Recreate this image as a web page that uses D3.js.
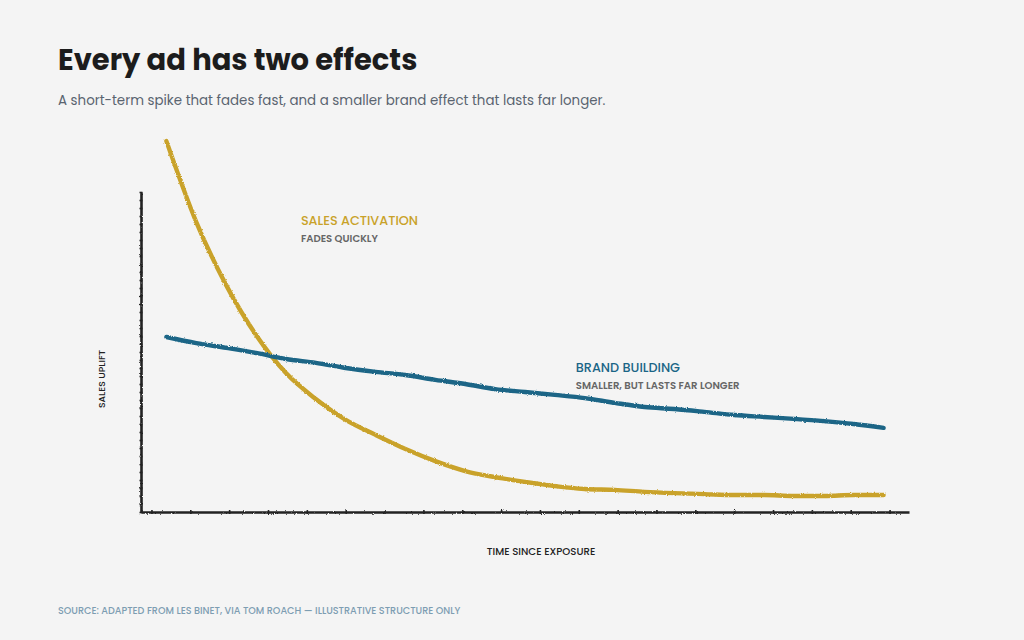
<!DOCTYPE html>
<html>
<head>
<meta charset="utf-8">
<script src="https://cdn.jsdelivr.net/npm/d3@7"></script>
<style>
  html, body { margin: 0; padding: 0; background: #f4f4f4; }
  svg { display: block; font-family: Poppins, Inter, "Open Sans", sans-serif; }
</style>
</head>
<body>
<div id="chart"></div>
<script>
// Weeks since exposure.
const weeks = d3.range(0, 25);

// Sales uplift per week.
const salesActivation = [
  115.9, 90.6, 70.9, 55.3, 43.4, 35.3, 28.8, 24.1, 19.7, 15.9, 12.8, 10.9,
  9.4, 8.1, 7.2, 6.9, 6.3, 5.9, 5.6, 5.3, 5.3, 5.0, 5.0, 5.3, 5.3
];
const brandBuilding = [
  54.7, 52.8, 51.3, 49.7, 47.8, 46.6, 45.0, 43.8, 42.8, 41.3, 40.0, 38.4,
  37.5, 36.6, 35.6, 34.1, 32.8, 32.2, 31.3, 30.3, 29.7, 29.1, 28.4, 27.5, 26.3
];

// Series labels and where they sit (week, uplift).
const seriesNames = ["SALES ACTIVATION", "BRAND BUILDING"];
const seriesNotes = ["FADES QUICKLY", "SMALLER, BUT LASTS FAR LONGER"];
const labelWeeks = [4.5, 13.7];
const labelValues = [89.7, 43.8];

const width = 1024;
const height = 640;
const colors = ["#c9a229", "#1a6586"];

/**
 * SVG container.
 */
const svg = d3.select("#chart")
  .append("svg")
  .attr("width", width)
  .attr("height", height);

svg.append("rect")
  .attr("width", width)
  .attr("height", height)
  .attr("fill", "#f4f4f4");

// A wobble filter for the hand-drawn look.
const defs = svg.append("defs");
const rough = defs.append("filter")
  .attr("id", "rough")
  .attr("x", "-5%").attr("y", "-5%")
  .attr("width", "110%").attr("height", "110%");
rough.append("feTurbulence")
  .attr("type", "fractalNoise")
  .attr("baseFrequency", 1.1)
  .attr("numOctaves", 2)
  .attr("seed", 3)
  .attr("result", "noise");
rough.append("feDisplacementMap")
  .attr("in", "SourceGraphic")
  .attr("in2", "noise")
  .attr("scale", 2.4)
  .attr("xChannelSelector", "R")
  .attr("yChannelSelector", "G");

/**
 * Scales.
 */
const x = d3.scaleLinear().domain([-0.85, 24.85]).range([141, 909]);
const y = d3.scaleLinear().domain([0, 100]).range([512, 192]);

/**
 * Axes.
 */
const xAxis = d3.axisBottom(x)
  .tickValues(d3.range(-0.5, 25, 1.3))
  .tickSize(2)
  .tickSizeOuter(0)
  .tickFormat("");
const yAxis = d3.axisLeft(y)
  .tickValues(d3.range(0, 101, 2.5))
  .tickSize(1.5)
  .tickSizeOuter(0)
  .tickFormat("");

const gx = svg.append("g")
  .attr("transform", `translate(0,${y(0)})`)
  .attr("filter", "url(#rough)")
  .call(xAxis);
const gy = svg.append("g")
  .attr("transform", `translate(${x(-0.85)},0)`)
  .attr("filter", "url(#rough)")
  .call(yAxis);

[gx, gy].forEach((g) => {
  g.select(".domain").attr("stroke", "#222").attr("stroke-width", 2.6);
  g.selectAll(".tick line").attr("stroke", "#222").attr("stroke-width", 1.6);
});
gx.selectAll(".tick line").attr("y1", -2);
gy.selectAll(".tick line").attr("x1", 1.5);

/**
 * Lines.
 */
const line = d3.line()
  .x((d, i) => x(weeks[i]))
  .y((d) => y(d))
  .curve(d3.curveMonotoneX);

[salesActivation, brandBuilding].forEach((series, i) => {
  svg.append("path")
    .datum(series)
    .attr("fill", "none")
    .attr("stroke", colors[i])
    .attr("stroke-width", 4.4)
    .attr("stroke-linecap", "round")
    .attr("stroke-linejoin", "round")
    .attr("filter", "url(#rough)")
    .attr("d", line);
});

/**
 * Series labels.
 */
seriesNames.forEach((name, i) => {
  svg.append("text")
    .attr("x", x(labelWeeks[i]))
    .attr("y", y(labelValues[i]))
    .attr("fill", colors[i])
    .attr("font-size", 12.8)
    .attr("font-weight", 500)
    .text(name);
  svg.append("text")
    .attr("x", x(labelWeeks[i]))
    .attr("y", y(labelValues[i]) + 17)
    .attr("fill", "#666")
    .attr("font-size", 10.1)
    .attr("font-weight", 600)
    .text(seriesNotes[i]);
});

/**
 * Axis titles.
 */
svg.append("text")
  .attr("x", 541)
  .attr("y", 555)
  .attr("text-anchor", "middle")
  .attr("fill", "#222")
  .attr("font-size", 10.2)
  .attr("font-weight", 500)
  .text("TIME SINCE EXPOSURE");

svg.append("text")
  .attr("transform", `translate(105,${(y(0) + y(100)) / 2 + 27}) rotate(-90)`)
  .attr("text-anchor", "middle")
  .attr("fill", "#222")
  .attr("font-size", 9.4)
  .attr("font-weight", 500)
  .text("SALES UPLIFT");

/**
 * Title, subtitle and source.
 */
svg.append("text")
  .attr("x", 58)
  .attr("y", 70)
  .attr("fill", "#1c1c1c")
  .attr("font-size", 29)
  .attr("font-weight", 700)
  .text("Every ad has two effects");

svg.append("text")
  .attr("x", 58)
  .attr("y", 105)
  .attr("fill", "#5a6470")
  .attr("font-size", 13.4)
  .text("A short-term spike that fades fast, and a smaller brand effect that lasts far longer.");

svg.append("text")
  .attr("x", 58)
  .attr("y", 614)
  .attr("fill", "#7d9db2")
  .attr("font-size", 9.6)
  .attr("font-weight", 500)
  .text("SOURCE: ADAPTED FROM LES BINET, VIA TOM ROACH — ILLUSTRATIVE STRUCTURE ONLY");
</script>
</body>
</html>
